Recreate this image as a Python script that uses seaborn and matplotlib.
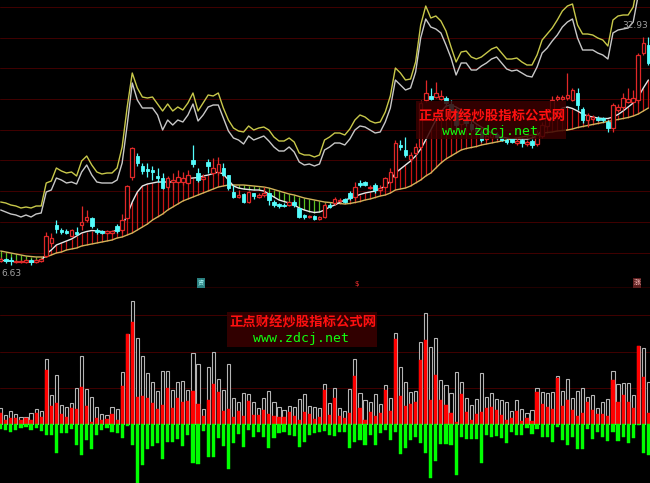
import numpy as np
import matplotlib
matplotlib.use('Agg')
import matplotlib.pyplot as plt
from matplotlib.patches import Rectangle
import seaborn as sns

sns.set_theme(style='dark')
plt.rcParams['font.family'] = ['Noto Sans CJK SC', 'DejaVu Sans']

# ---- price panel data (one value per trading day) ----
OPEN = [6.7, 6.9, 6.85, 6.6, 6.6, 6.6, 6.8, 6.6, 6.7, 7.2,
        8.5, 10.3, 9.8, 9.7, 9.2, 9.6, 10.3, 10.8, 11.0, 9.8,
        9.7, 9.5, 9.5, 10.2, 9.8, 11.0, 15.1, 17.2, 16.2, 15.9,
        15.8, 15.2, 15.0, 14.1, 14.6, 14.6, 14.6, 14.5, 16.8, 15.5,
        14.9, 16.6, 15.5, 15.6, 16.0, 15.3, 13.6, 13.1, 13.4, 12.6,
        13.5, 13.1, 13.3, 13.5, 12.6, 12.4, 12.35, 12.3, 12.6, 12.0,
        11.3, 11.1, 11.2, 10.9, 11.1, 12.3, 12.5, 12.7, 12.9, 13.5,
        13.1, 14.5, 14.6, 14.0, 14.3, 13.8, 14.1, 14.6, 15.1, 18.3,
        17.8, 16.9, 17.5, 18.1, 22.8, 23.2, 23.1, 22.9, 23.0, 22.4,
        21.8, 20.4, 20.9, 20.4, 20.0, 19.6, 18.9, 19.1, 19.4, 19.1,
        18.8, 18.9, 18.5, 18.8, 18.4, 18.7, 18.4, 19.2, 20.2, 21.6,
        22.9, 22.9, 23.0, 22.8, 23.5, 21.9, 20.8, 20.9, 21.0, 21.0,
        20.6, 20.0, 21.8, 22.1, 22.6, 22.6, 22.8, 27.5, 28.3]
CLOSE = [6.9, 6.7, 6.75, 6.7, 6.7, 6.8, 6.6, 6.8, 6.9, 9.2,
         9.0, 9.9, 9.6, 9.5, 9.8, 9.4, 10.6, 11.1, 10.2, 9.6,
         9.5, 9.7, 9.7, 9.7, 10.8, 14.2, 18.0, 16.5, 15.7, 15.7,
         15.6, 15.0, 14.0, 15.0, 14.8, 15.1, 15.0, 15.3, 16.4, 14.8,
         15.1, 16.2, 16.0, 16.4, 15.3, 14.0, 13.1, 13.3, 12.6, 13.6,
         13.2, 13.3, 13.5, 12.8, 12.3, 12.2, 12.25, 12.6, 12.3, 11.1,
         11.1, 11.2, 10.9, 11.1, 12.3, 12.1, 12.9, 12.8, 12.6, 13.0,
         14.1, 14.35, 14.3, 14.1, 13.8, 14.0, 15.0, 15.6, 18.5, 18.1,
         17.3, 17.3, 18.1, 22.5, 23.5, 22.9, 23.5, 23.2, 22.5, 21.8,
         20.3, 21.0, 20.5, 19.9, 19.7, 18.8, 19.2, 19.4, 19.1, 18.8,
         18.6, 18.6, 18.7, 18.5, 18.6, 18.3, 19.3, 20.3, 21.6, 22.8,
         23.1, 23.1, 23.3, 23.8, 22.3, 20.8, 21.3, 21.1, 20.85, 20.8,
         20.0, 22.3, 22.1, 23.0, 22.9, 23.0, 27.3, 28.5, 26.5]
HIGH = [7.1, 7.0, 7.1, 6.8, 6.8, 6.9, 6.9, 6.9, 7.0, 9.6,
        9.5, 10.8, 10.0, 9.9, 9.9, 10.1, 12.2, 11.8, 11.1, 10.0,
        9.8, 9.8, 9.8, 10.4, 11.4, 14.3, 18.1, 17.5, 16.5, 16.5,
        16.2, 16.0, 15.5, 15.2, 15.5, 15.8, 15.6, 15.8, 18.3, 16.0,
        15.4, 16.9, 17.0, 17.1, 16.5, 15.3, 14.3, 13.8, 13.5, 13.7,
        13.5, 13.5, 14.1, 13.5, 12.8, 12.5, 12.5, 12.7, 12.8, 12.0,
        11.4, 11.3, 11.3, 11.2, 12.5, 12.5, 13.1, 13.0, 13.0, 13.7,
        14.6, 14.8, 14.7, 14.3, 14.5, 14.3, 15.1, 16.0, 18.8, 18.8,
        19.1, 17.6, 18.5, 22.8, 24.8, 24.0, 24.6, 23.8, 23.2, 22.8,
        22.0, 21.3, 21.2, 20.7, 20.2, 19.8, 19.4, 19.6, 19.6, 19.3,
        19.0, 19.0, 19.1, 19.0, 18.8, 18.9, 19.8, 20.6, 22.0, 23.2,
        23.3, 23.3, 25.5, 24.0, 24.0, 22.1, 21.5, 21.3, 21.2, 21.1,
        20.8, 22.5, 22.4, 23.5, 24.0, 23.8, 27.5, 29.1, 29.1]
LOW = [6.6, 6.5, 6.3, 6.5, 6.5, 6.5, 6.3, 6.5, 6.6, 7.1,
       8.1, 9.5, 9.4, 9.4, 9.1, 9.3, 9.8, 10.6, 10.0, 9.4,
       9.4, 9.4, 9.4, 9.5, 9.5, 10.9, 14.8, 16.2, 15.4, 15.1,
       14.8, 14.6, 13.9, 13.9, 13.8, 14.5, 14.3, 14.4, 16.1, 14.6,
       14.8, 15.5, 15.3, 15.3, 15.2, 13.8, 13.0, 13.0, 12.5, 12.5,
       12.9, 13.0, 13.1, 12.3, 12.1, 12.0, 12.1, 12.2, 12.1, 11.0,
       10.9, 11.0, 10.8, 10.8, 11.0, 12.0, 12.3, 12.6, 12.5, 12.8,
       12.8, 14.1, 14.2, 13.9, 13.5, 13.6, 14.0, 14.5, 15.0, 17.8,
       17.1, 16.6, 17.3, 17.8, 22.6, 22.8, 23.0, 22.8, 22.2, 21.6,
       20.0, 20.2, 20.2, 19.7, 19.5, 18.6, 18.7, 18.9, 18.9, 18.7,
       18.4, 18.5, 18.3, 18.1, 18.2, 18.0, 18.2, 19.0, 20.0, 21.4,
       22.7, 22.8, 22.8, 22.7, 21.8, 20.5, 20.1, 20.7, 20.7, 20.6,
       19.6, 19.6, 21.6, 21.8, 22.5, 22.5, 22.5, 27.3, 26.3]

# fast / slow moving averages
MA_FAST = [6.8, 6.7, 6.7, 6.6, 6.6, 6.6, 6.6, 6.6, 6.7, 7.4,
           7.8, 8.3, 8.5, 8.7, 8.9, 9.2, 9.5, 9.65, 9.75, 9.7,
           9.65, 9.6, 9.6, 9.8, 10.2, 11.3, 12.6, 13.6, 14.2, 14.4,
           14.5, 14.6, 14.6, 14.6, 14.6, 14.7, 14.8, 14.95, 15.0, 15.05,
           15.2, 15.3, 15.45, 15.6, 15.4, 14.8, 14.2, 14.0, 13.9, 13.85,
           13.8, 13.8, 13.7, 13.4, 13.1, 12.8, 12.65, 12.5, 12.3, 12.0,
           11.8, 11.65, 11.55, 11.6, 11.8, 12.1, 12.3, 12.55, 12.8, 12.95,
           13.15, 13.35, 13.5, 13.6, 13.7, 13.9, 14.2, 14.7, 15.5, 15.9,
           16.3, 16.7, 17.2, 17.9, 18.8, 19.8, 20.8, 21.6, 22.2, 22.3,
           22.1, 21.8, 21.3, 20.8, 20.4, 20.1, 19.8, 19.5, 19.3, 19.1,
           19.0, 18.9, 18.9, 18.9, 18.9, 19.0, 19.2, 19.8, 20.4, 21.0,
           21.6, 22.0, 22.1, 21.95, 21.7, 21.4, 21.2, 21.1, 21.0, 20.95,
           20.95, 21.1, 21.35, 21.7, 22.1, 22.5, 23.1, 24.0, 24.8]
MA_SLOW = [7.7, 7.6, 7.5, 7.4, 7.3, 7.2, 7.15, 7.1, 7.1, 7.1,
           7.3, 7.5, 7.6, 7.8, 7.9, 8.0, 8.2, 8.3, 8.4, 8.5,
           8.6, 8.7, 8.8, 9.0, 9.1, 9.3, 9.5, 9.8, 10.1, 10.4,
           10.8, 11.1, 11.4, 11.8, 12.1, 12.4, 12.7, 12.9, 13.1, 13.3,
           13.5, 13.7, 13.9, 14.1, 14.2, 14.3, 14.3, 14.3, 14.3, 14.25,
           14.2, 14.15, 14.1, 14.0, 13.85, 13.7, 13.55, 13.4, 13.3, 13.15,
           13.0, 12.9, 12.8, 12.7, 12.6, 12.55, 12.5, 12.45, 12.4, 12.45,
           12.55, 12.65, 12.8, 12.9, 13.05, 13.2, 13.3, 13.5, 13.8, 13.9,
           14.0, 14.2, 14.5, 14.8, 15.2, 15.5, 16.0, 16.5, 16.9, 17.2,
           17.5, 17.8, 17.95, 18.05, 18.15, 18.3, 18.4, 18.5, 18.6, 18.7,
           18.8, 18.9, 19.0, 19.1, 19.2, 19.3, 19.4, 19.5, 19.55, 19.6,
           19.7, 19.75, 19.8, 19.9, 20.05, 20.15, 20.25, 20.35, 20.45, 20.55,
           20.65, 20.75, 20.85, 20.95, 21.05, 21.2, 21.4, 21.7, 22.0]

# upper band (yellow) and its companion line (white)
BAND_HI = [12.6, 12.5, 12.3, 12.2, 12.0, 12.1, 12.0, 12.2, 12.2, 14.5,
           14.7, 16.0, 15.7, 15.5, 15.6, 15.2, 16.7, 17.2, 16.3, 15.6,
           15.4, 15.5, 15.5, 16.0, 18.1, 22.1, 25.5, 24.0, 23.1, 23.0,
           23.1, 22.4, 21.7, 22.4, 21.7, 22.1, 21.8, 22.5, 23.5, 21.7,
           22.5, 23.3, 23.2, 23.5, 22.0, 20.8, 20.0, 19.7, 19.6, 20.2,
           19.8, 20.0, 20.1, 19.8, 19.1, 18.7, 18.7, 19.0, 18.6, 17.5,
           17.3, 17.3, 17.1, 17.3, 18.8, 19.1, 19.5, 19.5, 19.3, 19.9,
           20.8, 21.3, 21.1, 20.7, 20.5, 20.6, 21.6, 23.2, 26.0, 25.5,
           24.8, 24.9, 26.6, 30.3, 32.2, 31.0, 31.2, 30.7, 29.7, 28.1,
           26.6, 27.6, 27.7, 27.1, 26.9, 27.1, 27.5, 27.9, 28.1, 27.5,
           26.9, 26.9, 27.0, 26.6, 26.3, 26.3, 27.3, 28.8, 29.4, 30.0,
           30.8, 31.7, 32.2, 32.4, 30.3, 29.4, 29.4, 29.3, 29.0, 28.8,
           28.2, 30.8, 31.2, 31.3, 31.3, 32.1, 34.8, 35.8, 35.8]
BAND_LO = [11.8, 11.6, 11.4, 11.3, 11.1, 11.3, 11.1, 11.4, 11.5, 13.6,
           13.8, 15.0, 14.8, 14.5, 14.6, 14.4, 15.6, 16.3, 15.3, 14.6,
           14.5, 14.5, 14.5, 14.8, 16.5, 20.3, 24.5, 22.8, 22.0, 22.0,
           22.0, 21.3, 19.8, 20.8, 20.3, 20.8, 20.6, 21.3, 22.4, 20.7,
           21.3, 22.1, 22.3, 22.3, 21.0, 19.7, 19.0, 18.8, 18.4, 19.2,
           18.8, 19.0, 19.2, 18.7, 18.1, 17.7, 17.7, 18.1, 17.6, 16.6,
           16.3, 16.4, 16.2, 16.4, 17.8, 18.1, 18.5, 18.5, 18.3, 18.9,
           19.8, 20.2, 20.1, 19.8, 19.5, 19.6, 20.6, 22.0, 24.8, 24.3,
           23.8, 24.0, 25.6, 29.0, 30.9, 30.1, 29.9, 29.5, 28.3, 27.0,
           25.3, 26.5, 26.5, 25.8, 25.8, 26.2, 26.5, 26.9, 27.1, 26.5,
           25.9, 25.7, 25.8, 25.5, 25.2, 25.1, 26.1, 27.5, 28.0, 28.7,
           29.3, 30.1, 30.6, 30.9, 29.0, 27.8, 27.8, 27.8, 27.5, 27.3,
           26.9, 29.5, 29.8, 29.9, 30.0, 30.6, 33.3, 34.8, 35.3]

# ---- lower panel: total / active buy / active sell ----
VOL_TOTAL = [1.57, 0.9, 1.33, 0.97, 0.73, 0.73, 1.07, 1.47, 1.33, 6.5,
             2.9, 4.9, 1.9, 1.73, 2.07, 3.57, 6.8, 3.47, 2.67, 1.67,
             1.0, 0.9, 1.73, 1.47, 5.17, 8.97, 12.3, 8.63, 6.8, 5.13,
             4.23, 3.3, 5.33, 5.33, 3.4, 4.23, 4.33, 3.4, 7.13, 5.97,
             1.47, 5.67, 7.23, 4.5, 3.4, 5.97, 2.57, 2.23, 3.07, 2.97,
             2.23, 1.57, 2.57, 3.3, 2.17, 1.67, 1.4, 1.8, 1.73, 2.47,
             2.97, 1.8, 1.67, 1.57, 3.97, 2.07, 3.57, 1.57, 1.3, 3.47,
             6.47, 3.13, 2.4, 2.17, 2.97, 1.97, 3.9, 2.57, 9.13, 5.73,
             4.17, 3.17, 3.3, 8.23, 11.13, 7.73, 8.63, 4.4, 3.9, 3.07,
             5.17, 4.23, 2.63, 1.9, 2.47, 5.07, 2.67, 3.07, 2.5, 2.4,
             2.23, 1.33, 2.4, 1.47, 1.07, 1.4, 3.63, 3.23, 3.07, 3.23,
             4.83, 3.33, 4.47, 2.57, 3.3, 3.63, 2.67, 2.9, 1.63, 2.23,
             2.47, 5.3, 3.97, 4.07, 4.07, 2.9, 7.8, 7.57, 4.17]
VOL_BUY = [1.07, 0.4, 0.57, 0.57, 0.4, 0.57, 0.4, 1.07, 0.73, 5.4,
           1.8, 2.07, 1.0, 0.73, 1.57, 1.47, 3.73, 1.8, 0.17, 0.57,
           0.4, 0.47, 0.97, 0.4, 3.8, 8.97, 10.23, 2.67, 2.8, 2.57,
           2.13, 1.47, 1.9, 3.57, 1.63, 2.57, 2.23, 2.3, 3.3, 2.0,
           0.83, 2.4, 4.0, 3.23, 1.3, 1.5, 0.67, 1.3, 0.8, 2.33,
           0.9, 0.9, 1.4, 0.97, 0.8, 0.73, 0.73, 1.17, 0.8, 0.4,
           1.23, 0.97, 0.47, 0.73, 3.4, 0.9, 2.57, 0.8, 0.63, 1.13,
           4.8, 1.57, 0.4, 1.17, 0.83, 1.07, 3.4, 1.33, 8.47, 2.8,
           1.83, 1.97, 2.17, 6.4, 8.4, 2.4, 4.9, 2.4, 1.9, 1.07,
           0.17, 3.0, 1.17, 0.4, 0.97, 1.17, 1.63, 1.73, 1.4, 0.9,
           0.4, 0.57, 1.33, 0.33, 0.57, 0.33, 3.23, 2.0, 1.73, 1.5,
           4.57, 1.83, 2.4, 1.4, 0.8, 1.13, 2.17, 1.4, 0.97, 0.97,
           0.8, 4.4, 2.23, 2.9, 2.17, 1.57, 7.8, 4.73, 1.13]
VOL_SELL = [-0.5, -0.6, -0.77, -0.6, -0.37, -0.27, -0.6, -0.43, -0.67, -1.1,
            -1.1, -2.93, -0.93, -0.93, -0.5, -2.1, -3.1, -1.6, -2.53, -1.1,
            -0.6, -0.37, -0.77, -0.93, -1.37, -0.17, -2.1, -5.9, -4.1, -2.53,
            -2.2, -1.87, -3.53, -1.77, -1.77, -1.53, -2.17, -1.1, -3.93, -4.03,
            -0.67, -3.33, -3.27, -1.37, -2.2, -4.53, -1.93, -1.0, -2.33, -0.6,
            -1.27, -0.77, -1.27, -2.43, -1.43, -0.93, -0.77, -1.1, -1.2, -2.27,
            -1.77, -1.1, -0.93, -0.77, -0.67, -1.1, -1.2, -0.77, -0.77, -2.43,
            -1.77, -1.6, -2.1, -1.1, -2.1, -0.93, -0.6, -1.6, -0.77, -3.03,
            -2.43, -1.6, -1.27, -1.87, -2.87, -5.37, -3.67, -2.03, -2.03, -2.1,
            -5.1, -1.33, -1.5, -1.53, -1.53, -3.93, -1.1, -1.33, -1.2, -1.43,
            -1.87, -0.77, -1.1, -1.1, -0.43, -1.0, -0.5, -1.27, -1.33, -1.83,
            -0.27, -1.6, -2.1, -1.27, -2.53, -2.53, -0.5, -1.5, -0.77, -1.27,
            -1.7, -0.77, -1.67, -1.27, -1.93, -1.37, -0.1, -2.87, -3.1]

GRID_TOP = [7.5, 10.6, 13.7, 16.8, 19.8, 22.9, 26.0, 29.0, 32.1]
GRID_BOTTOM = [3.6, 7.25, 10.9]

WATERMARK = '正点财经炒股指标公式网'
SITE = 'www.zdcj.net'

RED = '#e02828'
CYAN = '#54fcfc'

o = np.array(OPEN)
c = np.array(CLOSE)
h = np.array(HIGH)
l = np.array(LOW)
fast = np.array(MA_FAST)
slow = np.array(MA_SLOW)
idx = np.arange(len(o))

fig = plt.figure(figsize=(6.5, 4.83), dpi=100, facecolor='black')
ax = fig.add_axes([0, 195 / 483, 1, 288 / 483])
axv = fig.add_axes([0, 0, 1, 195 / 483])

for a in (ax, axv):
    a.set_facecolor('black')
    a.set_xlim(-0.138, 128.32)
    a.set_xticks([])
    a.tick_params(left=False, labelleft=False)
    for s in a.spines.values():
        s.set_visible(False)
    a.grid(axis='y', color='#420000', linewidth=0.7)
    a.grid(axis='x', visible=False)
    a.set_axisbelow(True)

# ---- top panel ----
ax.set_ylim(4.0, 32.8)
ax.set_yticks(GRID_TOP)
ax.spines['bottom'].set_visible(True)
ax.spines['bottom'].set_color('#b00000')
ax.spines['bottom'].set_linewidth(1.0)

up_trend = fast >= slow
ax.vlines(idx[up_trend], slow[up_trend], fast[up_trend], colors='#c81414', linewidth=0.9, zorder=2)
ax.vlines(idx[~up_trend], slow[~up_trend], fast[~up_trend], colors='#58c020', linewidth=0.9, zorder=2)

sns.lineplot(x=idx, y=MA_SLOW, ax=ax, color='#d2b45a', linewidth=1.0, zorder=3)
sns.lineplot(x=idx, y=MA_FAST, ax=ax, color='#e8e8e8', linewidth=1.0, zorder=3)
sns.lineplot(x=idx, y=BAND_HI, ax=ax, color='#c8c84a', linewidth=1.0, zorder=3)
sns.lineplot(x=idx, y=BAND_LO, ax=ax, color='#c8c8c8', linewidth=1.0, zorder=3)

rise = c >= o
wick_colors = np.where(rise, RED, CYAN)
ax.vlines(idx, l, h, colors=wick_colors, linewidth=0.9, zorder=4)
body_lo = np.minimum(o, c)
body_h = np.maximum(np.abs(c - o), 0.06)
ax.bar(idx[rise], body_h[rise], bottom=body_lo[rise], width=0.7,
       facecolor='black', edgecolor=RED, linewidth=0.9, zorder=5)
ax.bar(idx[~rise], body_h[~rise], bottom=body_lo[~rise], width=0.7,
       facecolor=CYAN, edgecolor=CYAN, linewidth=0.6, zorder=5)

ax.text(0.002, 1 - 273 / 288, '6.63', transform=ax.transAxes, color='#a0a0a0',
        fontsize=6.5, va='center', ha='left', family='DejaVu Sans')
ax.text(0.997, 1 - 25 / 288, '32.93', transform=ax.transAxes, color='#a0a0a0',
        fontsize=6.5, va='center', ha='right', family='DejaVu Sans')

# small event markers along the bottom of the price panel
ax.text(201 / 650, 1 - 283 / 288, '资', transform=ax.transAxes, color='#b0ffff',
        fontsize=4.5, ha='center', va='center',
        bbox=dict(boxstyle='square,pad=0.1', facecolor='#2a8080', edgecolor='none'))
ax.text(357 / 650, 1 - 284 / 288, '$', transform=ax.transAxes, color='#ff3030',
        fontsize=5, ha='center', va='center', family='DejaVu Sans')
ax.text(637 / 650, 1 - 283 / 288, '涨', transform=ax.transAxes, color='#ffc0c0',
        fontsize=5, ha='center', va='center',
        bbox=dict(boxstyle='square,pad=0.1', facecolor='#602020', edgecolor='none'))

# watermark on price panel
ax.add_patch(Rectangle((416 / 650, 1 - 139 / 288), 150 / 650, 38 / 288,
                       transform=ax.transAxes, facecolor='#3a0000', alpha=0.85,
                       edgecolor='none', zorder=8))
ax.text(491.5 / 650, 1 - 116 / 288, WATERMARK, transform=ax.transAxes, color='#ff1010',
        fontsize=9.6, fontweight='bold', ha='center', va='center', zorder=9)
ax.text(490 / 650, 1 - 131 / 288, SITE, transform=ax.transAxes, color='#10ff10',
        fontsize=9.5, ha='center', va='center', family='DejaVu Sans Mono', zorder=9)

# ---- bottom panel ----
axv.set_ylim(-5.9, 13.6)
axv.set_yticks(GRID_BOTTOM)
axv.bar(idx, VOL_TOTAL, width=0.62, facecolor='black', edgecolor='#b4b4b4',
        linewidth=0.8, zorder=3)
axv.bar(idx, VOL_BUY, width=0.62, facecolor='#ff0000', edgecolor='#ff0000',
        linewidth=0.3, zorder=4)
axv.bar(idx, VOL_SELL, width=0.62, facecolor='#00ff00', edgecolor='#00ff00',
        linewidth=0.3, zorder=4)

# watermark on volume panel (panel spans image rows 288..483)
axv.add_patch(Rectangle((227 / 650, 1 - (347 - 288) / 195), 150 / 650, 35 / 195,
                        transform=axv.transAxes, facecolor='#3a0000', alpha=0.85,
                        edgecolor='none', zorder=8))
axv.text(302.5 / 650, 1 - (322.5 - 288) / 195, WATERMARK,
         transform=axv.transAxes, color='#ff1010', fontsize=9.6, fontweight='bold',
         ha='center', va='center', zorder=9)
axv.text(301 / 650, 1 - (338.5 - 288) / 195, SITE, transform=axv.transAxes, color='#10ff10',
         fontsize=9.5, ha='center', va='center', family='DejaVu Sans Mono', zorder=9)

fig.savefig('out.png', dpi=100, facecolor='black')
